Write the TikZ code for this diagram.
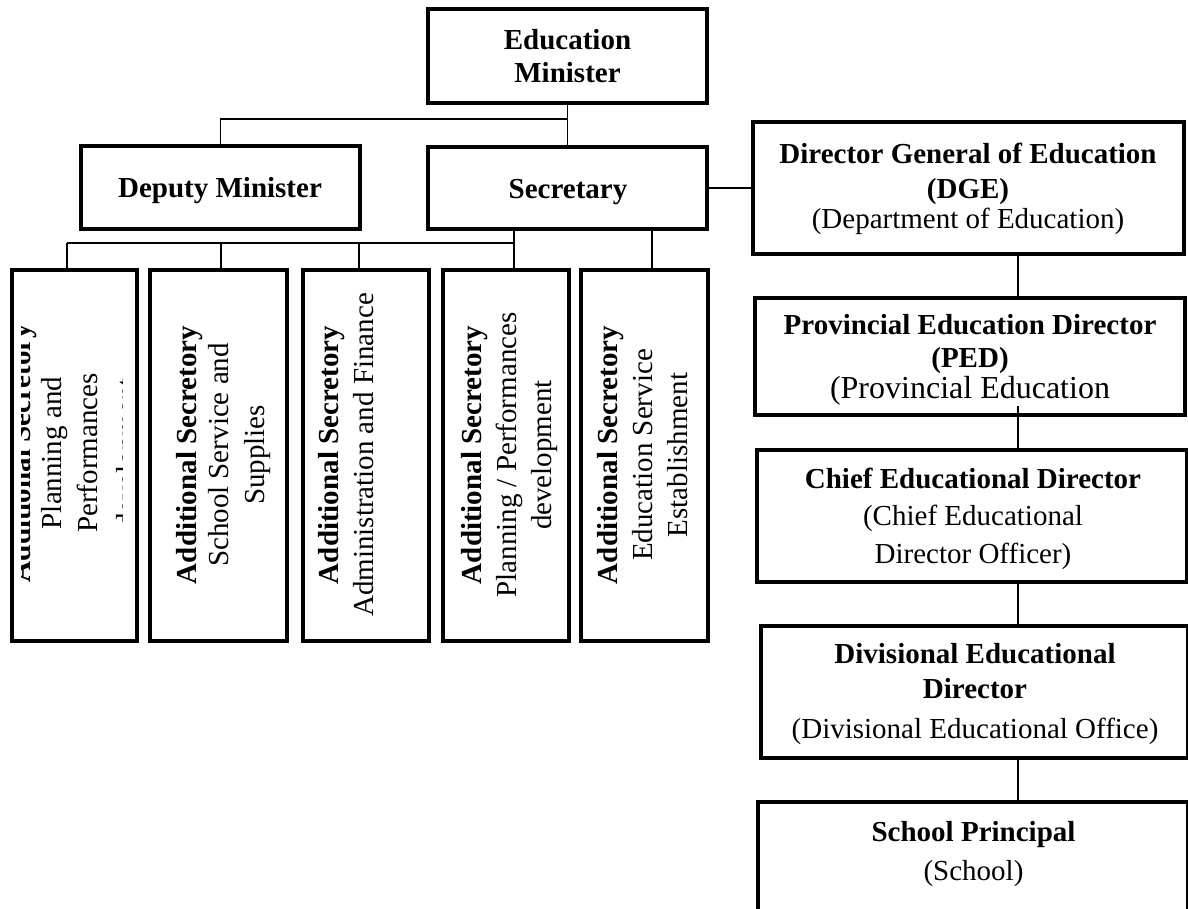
\documentclass[tikz,border=0pt]{standalone}
\usepackage{fontspec}
\setmainfont{Liberation Serif}
\usetikzlibrary{calc}
\begin{document}
\begin{tikzpicture}[x=1pt,y=-1pt,
  box/.style={draw, line width=3.1pt, inner sep=0pt, outer sep=0pt},
  txt/.style={inner sep=0pt, align=center, font=\fontsize{29}{35}\selectfont},
  vtxt/.style={txt, rotate=90},
  link/.style={line width=1.9pt}]
\useasboundingbox (0,0) rectangle (1188,908);
\fill[white] (0,0) rectangle (1188,908);
\clip (0,0) rectangle (1188,908);

% ---- top of the ministry ----
\node[box, minimum width=279pt, minimum height=94pt] (em) at (567.5,56) {};
\node[txt] (emt) at (567.5,56.5) {\textbf{Education}\\[-2pt]\textbf{Minister}};
\node[box, minimum width=279pt, minimum height=83pt] (dep) at (220.5,187.5) {};
\node[txt] (dept) at (220,190.5) {\textbf{Deputy Minister}};
\node[box, minimum width=279pt, minimum height=82pt] (sec) at (567.5,188) {};
\node[txt] (sect) at (568,192.4) {\textbf{Secretary}};

% ---- additional secretaries ----
\node[box, minimum width=125pt, minimum height=371pt] (a1) at (74.5,455.5) {};
\node[box, minimum width=137pt, minimum height=371pt] (a2) at (218.5,455.5) {};
\node[box, minimum width=126pt, minimum height=371pt] (a3) at (366,455.5) {};
\node[box, minimum width=126pt, minimum height=371pt] (a4) at (506,455.5) {};
\node[box, minimum width=127pt, minimum height=371pt] (a5) at (644.5,455.5) {};

\begin{scope}
  \clip (21,272) rectangle (122,640);
  \node[vtxt, font=\fontsize{29}{36}\selectfont] (a1t) at (76.5,453)
    {\textbf{Additional Secretory}\\[-5pt]Planning and\\Performances\\[3pt]development};
\end{scope}
\node[vtxt] (a2t) at (224,455) {\textbf{Additional Secretory}\\[-3pt]School Service and\\[1pt]Supplies};
\node[vtxt] (a3t) at (346,455) {\textbf{Additional Secretory}\\Administration and Finance};
\node[vtxt] (a4t) at (510,455) {\textbf{Additional Secretory}\\Planning / Performances\\development};
\node[vtxt] (a5t) at (643,455) {\textbf{Additional Secretory}\\Education Service\\Establishment};

% ---- department chain ----
\node[box, minimum width=431pt, minimum height=132pt] (dge) at (968.5,188) {};
\node[txt] (dget) at (968,188.4) {\textbf{Director General of Education}\\\textbf{(DGE)}\\[-5pt](Department of Education)};
\node[box, minimum width=430pt, minimum height=117pt] (ped) at (970,356.5) {};
\node[txt] (pedt) at (970,360) {\textbf{Provincial Education Director}\\[-2pt]\textbf{(PED)}\\[-4pt]{\fontsize{32}{35}\selectfont (Provincial Education}};
\node[box, minimum width=430pt, minimum height=132pt] (chief) at (972,516) {};
\node[txt] (chieft) at (973,518.5) {\textbf{Chief Educational Director}\\[2pt](Chief Educational\\[3pt]Director Officer)};
\node[box, minimum width=427pt, minimum height=132pt] (div) at (974.5,692) {};
\node[txt] (divt) at (975,694.5) {\textbf{Divisional Educational}\\\textbf{Director}\\[5pt](Divisional Educational Office)};
\node[box, minimum width=430pt, minimum height=138pt] (school) at (973,871) {};
\node[txt] (schoolt) at (973.5,854.5) {\textbf{School Principal}\\[4pt](School)};

% ---- connectors ----
\coordinate (tbus) at (567.5,119);
\draw[link] (em.south) -- (sec.north);
\draw[link] (dep.north) |- (tbus);

\coordinate (b1) at (67,243);
\coordinate (b2) at (221,243);
\coordinate (b3) at (359,243);
\coordinate (b4) at (514,243);
\coordinate (b5) at (652,243);
\draw[link] (b1) -- (b4);
\draw[link] (b1) -- (b1 |- a1.north);
\draw[link] (b2) -- (b2 |- a2.north);
\draw[link] (b3) -- (b3 |- a3.north);
\draw[link] (b4 |- sec.south) -- (b4 |- a4.north);
\draw[link] (b5 |- sec.south) -- (b5 |- a5.north);

\draw[link] (sec.east) -- (dge.west |- sec.east);

\coordinate (rc) at (1018,0);
\draw[link] (rc |- dge.south) -- (rc |- ped.north);
\draw[link] ($(rc |- ped.south)+(0,-9)$) -- (rc |- chief.north);
\draw[link] (rc |- chief.south) -- (rc |- div.north);
\draw[link] (rc |- div.south) -- (rc |- school.north);
\end{tikzpicture}
\end{document}
